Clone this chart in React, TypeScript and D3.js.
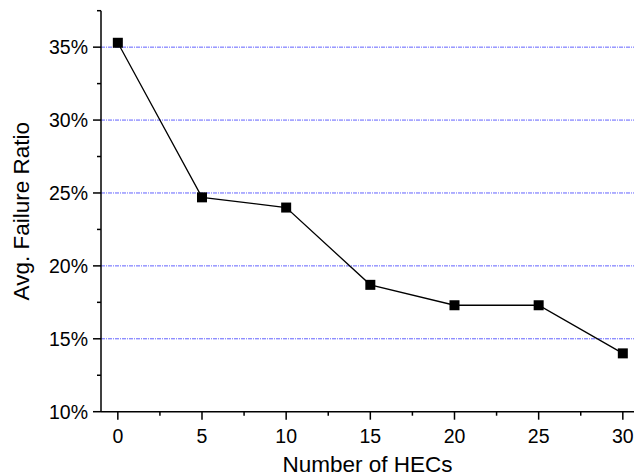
import React from 'react';
import * as d3 from 'd3';

const hecs = [0, 5, 10, 15, 20, 25, 30];
const failureRatio = [35.3, 24.7, 24.0, 18.7, 17.3, 17.3, 14.0];
const xTicks = [0, 5, 10, 15, 20, 25, 30];
const xMinorTicks = [2.5, 7.5, 12.5, 17.5, 22.5, 27.5];
const yTicks = [10, 15, 20, 25, 30, 35];
const yMinorTicks = [12.5, 17.5, 22.5, 27.5, 32.5, 37.5];
const gridValues = [15, 20, 25, 30, 35];

const W = 634, H = 476;

export default function App() {
    const x = d3.scaleLinear().domain([-1, 31]).range([101, 101 + 32 * 16.833]);
    const y = d3.scaleLinear().domain([10, 37.5]).range([411.7, 10.7]);
    const left = x(-1), bottom = y(10), top = y(37.5);

    const points = hecs.map((h, i) => [x(h), y(failureRatio[i])] as [number, number]);
    const line = d3.line()(points) || '';
    const font = '"Liberation Sans", Arial, sans-serif';

    return (
        <svg width={W} height={H} style={{ position: 'absolute', left: 0, top: 0, background: '#fff' }} fontFamily={font}>
            {/* grid */}
            {gridValues.map(v => (
                <line key={'g' + v} x1={left} x2={W} y1={y(v)} y2={y(v)}
                    stroke="#2f2fff" strokeWidth={1} strokeDasharray="4,1,1,1" opacity={0.75} />
            ))}

            {/* axes */}
            <line x1={left} x2={left} y1={top} y2={bottom} stroke="#000" strokeWidth={1.5} />
            <line x1={left} x2={W} y1={bottom} y2={bottom} stroke="#000" strokeWidth={1.5} />

            {xTicks.map(t => (
                <g key={'xt' + t} transform={`translate(${x(t)},${bottom})`}>
                    <line y1={0} y2={8} stroke="#000" strokeWidth={1.5} />
                    <text y={31} textAnchor="middle" fontSize={19.5} fill="#000">{t}</text>
                </g>
            ))}
            {xMinorTicks.map(t => (
                <line key={'xm' + t} x1={x(t)} x2={x(t)} y1={bottom} y2={bottom + 4} stroke="#000" strokeWidth={1.5} />
            ))}

            {yTicks.map(t => (
                <g key={'yt' + t} transform={`translate(${left},${y(t)})`}>
                    <line x1={0} x2={-8} stroke="#000" strokeWidth={1.5} />
                    <text x={-13} dy="0.35em" textAnchor="end" fontSize={19.5} fill="#000">{t}%</text>
                </g>
            ))}
            {yMinorTicks.map(t => (
                <line key={'ym' + t} x1={left} x2={left - 4} y1={y(t)} y2={y(t)} stroke="#000" strokeWidth={1.5} />
            ))}

            {/* titles */}
            <text x={(left + W) / 2} y={472} textAnchor="middle" fontSize={22.5} fill="#000">Number of HECs</text>
            <text transform={`translate(29,${(top + bottom) / 2}) rotate(-90)`} textAnchor="middle" fontSize={22.5} fill="#000">Avg. Failure Ratio</text>

            {/* data */}
            <path d={line} fill="none" stroke="#000" strokeWidth={1.3} />
            {points.map(([px, py], i) => (
                <rect key={'p' + i} x={px - 5} y={py - 5} width={10} height={10} fill="#000" />
            ))}
        </svg>
    );
}
